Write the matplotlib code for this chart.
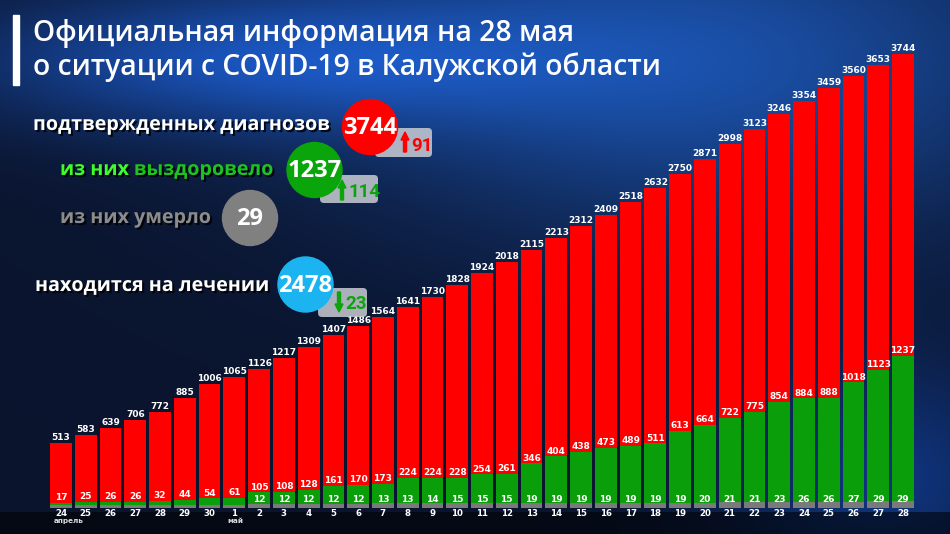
import numpy as np
import matplotlib
matplotlib.use("Agg")
import matplotlib.pyplot as plt
from matplotlib.patches import Circle, FancyBboxPatch, Rectangle, FancyArrow
import matplotlib.patheffects as pe

# данные
days = ["24", "25", "26", "27", "28", "29", "30"] + [str(d) for d in range(1, 29)]
confirmed = [513, 583, 639, 706, 772, 885, 1006, 1065, 1126, 1217, 1309, 1407, 1486, 1564,
             1641, 1730, 1828, 1924, 2018, 2115, 2213, 2312, 2409, 2518, 2632, 2750, 2871,
             2998, 3123, 3246, 3354, 3459, 3560, 3653, 3744]
recovered = [17, 25, 26, 26, 32, 44, 54, 61, 105, 108, 128, 161, 170, 173, 224, 224, 228,
             254, 261, 346, 404, 438, 473, 489, 511, 613, 664, 722, 775, 854, 884, 888,
             1018, 1123, 1237]
deaths = [0, 0, 0, 0, 0, 0, 0, 0, 12, 12, 12, 12, 12, 13, 13, 14, 15, 15, 15, 19, 19, 19,
          19, 19, 19, 19, 20, 21, 21, 23, 26, 26, 27, 29, 29]
months = {0: "апрель", 7: "май"}

summary_labels = ["подтвержденных диагнозов", "из них выздоровело", "из них умерло", "находится на лечении"]
summary_values = ["3744", "1237", "29", "2478"]
summary_delta = ["91", "114", None, "23"]

RED = "#ff0000"
GREEN = "#0a9e0a"
GREY = "#7a7a7a"
BLUE = "#1cb4f0"

W, H = 950, 534
fig = plt.figure(figsize=(9.5, 5.34), dpi=100)

# фон
bg = fig.add_axes([0, 0, 1, 1], zorder=0)
yy, xx = np.mgrid[0:H, 0:W]
base = np.array([0.04, 0.08, 0.18])
img = np.ones((H, W, 3)) * base
glow1 = np.exp(-(((xx - 700) / 380) ** 2 + ((yy - 60) / 180) ** 2))
glow2 = np.exp(-(((xx - 250) / 300) ** 2 + ((yy - 60) / 70) ** 2))
glow3 = np.exp(-(((xx - 880) / 160) ** 2 + ((yy - 480) / 120) ** 2))
img += glow1[..., None] * np.array([0.06, 0.22, 0.45])
img += glow2[..., None] * np.array([0.05, 0.2, 0.45])
img += glow3[..., None] * np.array([0.02, 0.12, 0.3])
img[512:, :, :] *= 0.45
img = np.clip(img, 0, 1)
bg.imshow(img, extent=[0, W, H, 0], aspect="auto")
bg.set_xlim(0, W)
bg.set_ylim(H, 0)
bg.axis("off")
bg.add_patch(Rectangle((13, 15), 6, 70, color="white"))

title_font = ["Open Sans", "DejaVu Sans"]
bg.text(33, 33, "Официальная информация на 28 мая", color="white", fontsize=20.3,
        fontweight="semibold", family=title_font, va="center", ha="left")
bg.text(33, 67, "о ситуации с COVID-19 в Калужской области", color="white", fontsize=20.3,
        fontweight="semibold", family=title_font, va="center", ha="left")

# столбцы
ax = fig.add_axes([48.6 / W, 26 / H, 866.8 / W, 485 / H], zorder=1)
ax.patch.set_alpha(0)
x = np.arange(len(days))
pad = 25
ax.bar(x, confirmed, width=0.88, color=RED, zorder=1)
ax.bar(x, recovered, width=0.88, color=GREEN, zorder=2)
ax.bar(x, np.array(deaths) + pad, bottom=-pad, width=0.88, color=GREY, zorder=3)
ax.set_xlim(-0.5, len(days) - 0.5)
ax.set_ylim(-pad, 4000)
ax.axis("off")

lab = dict(color="white", fontsize=6.5, fontweight="bold", ha="center", va="bottom",
           family="DejaVu Sans", zorder=5)
for i in x:
    ax.text(i, confirmed[i] + 8, str(confirmed[i]), **lab)
    ax.text(i, recovered[i] + 6, str(recovered[i]), **lab)
    if deaths[i]:
        ax.text(i, 5, str(deaths[i]), **lab)
    ax.text(i, -pad - 8, days[i], color="white", fontsize=6.2, fontweight="bold",
            ha="center", va="top", family="DejaVu Sans")
for i, m in months.items():
    ax.text(i - 0.3, -pad - 80, m, color="#dddddd", fontsize=5.2, fontweight="bold",
            ha="left", va="top", family="DejaVu Sans")

# сводка
lg = fig.add_axes([0, 0, 1, 1], zorder=2)
lg.patch.set_alpha(0)
lg.set_xlim(0, W)
lg.set_ylim(H, 0)
lg.axis("off")

shadow = [pe.withSimplePatchShadow(offset=(1.5, -1.5), shadow_rgbFace="black", alpha=0.8)]
lfont = ["Open Sans", "DejaVu Sans"]
lkw = dict(fontsize=14.2, fontweight="bold", family=lfont, va="center", ha="left", path_effects=shadow)

lg.text(33, 125, summary_labels[0], color="white", **lkw)
t = lg.text(60, 170, "из них ", color="#3cff2a", **lkw)
lg.annotate("выздоровело", xycoords=t, xy=(1, 0.5), va="center", ha="left", color="#1fc21f",
            fontsize=14.2, fontweight="bold", family=lfont, path_effects=shadow)
lg.text(60, 218, summary_labels[2], color="#8c8c8c", **lkw)
lg.text(35, 286, summary_labels[3], color="white", **lkw)

circles = [(370, 127, RED), (314.5, 170, "#0aa50a"), (250, 218, "#808080"), (305.5, 284.5, BLUE)]
# (box x, y, w, h, colour, arrow x, arrow from y, arrow to y, number left x, number y)
boxes = [(375, 128, 57, 29, RED, 405, 152, 132, 411, 146),
         (320, 175, 58, 28, "#0aa50a", 342, 200, 180, 348, 192),
         None,
         (318, 288, 49, 29, "#0aa50a", 339, 292, 312, 345, 304)]
for k, (cx, cy, c) in enumerate(circles):
    b = boxes[k]
    if b is not None:
        bx, by, bw, bh, tc, axx, ay0, ay1, nx, ny = b
        lg.add_patch(FancyBboxPatch((bx, by), bw, bh, boxstyle="round,pad=0,rounding_size=4",
                                    facecolor="#c9ccd3", edgecolor="none", alpha=0.85, zorder=2))
        lg.add_patch(FancyArrow(axx, ay0, 0, ay1 - ay0, width=3, head_width=8, head_length=8,
                                length_includes_head=True, color=tc, zorder=3))
        lg.text(nx, ny, summary_delta[k], color=tc, fontsize=13.5,
                fontweight="bold", family=["Roboto", "DejaVu Sans"], ha="left", va="center", zorder=3)
    lg.add_patch(Circle((cx, cy), 27.5, color=c, zorder=4))
    lg.text(cx, cy + 1, summary_values[k], color="white", fontsize=17, fontweight="bold",
            family=lfont, ha="center", va="center", zorder=5)

fig.savefig("out.png", dpi=100)
